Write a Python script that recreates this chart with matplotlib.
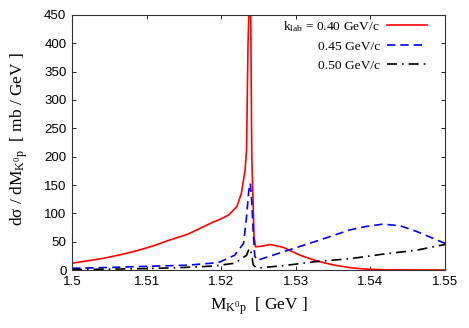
import matplotlib
matplotlib.use("Agg")
import matplotlib.pyplot as plt

# Data
red_x = [1.5, 1.502, 1.5042, 1.5065, 1.5087, 1.511, 1.5131, 1.5155, 1.5174, 1.519, 1.5196,
         1.521, 1.5221, 1.5227, 1.5232, 1.5234, 1.5236, 1.52375, 1.52395, 1.5241, 1.5244,
         1.5246, 1.5254, 1.5266, 1.5283, 1.5306, 1.5328, 1.535, 1.5373, 1.5395, 1.542, 1.55]
red_y = [12, 16, 20.6, 27, 34, 43, 53, 63, 75, 85, 88,
         97, 112, 135, 176, 212, 400, 470, 470, 200, 60,
         41, 42, 45, 40, 26, 16, 9, 4, 1.5, 0.3, 0]

blue_x = [1.5, 1.505, 1.51, 1.5155, 1.5196, 1.5218, 1.523, 1.5234, 1.5237, 1.5239,
          1.5241, 1.5243, 1.5245, 1.5248, 1.529, 1.533, 1.5373, 1.5395, 1.5417, 1.544,
          1.5462, 1.55]
blue_y = [3, 4.5, 6.5, 8.5, 13, 26, 47, 94, 140, 153,
          120, 65, 25, 17, 35, 52, 71, 77, 81, 78,
          68, 47]

black_x = [1.5, 1.505, 1.51, 1.5151, 1.519, 1.5218, 1.5234, 1.5237, 1.5239, 1.5241,
           1.5243, 1.5247, 1.5252, 1.5283, 1.5328, 1.5373, 1.5417, 1.5462, 1.55]
black_y = [1, 1.5, 2.5, 4.5, 7, 12, 26, 36, 38, 25,
           9, 4, 4, 7.6, 15, 20, 28, 35, 45]

labels = [r"k$_{\mathrm{lab}}$ = 0.40 GeV/c", "0.45 GeV/c", "0.50 GeV/c"]
xticks = [1.5, 1.51, 1.52, 1.53, 1.54, 1.55]
yticks = [0, 50, 100, 150, 200, 250, 300, 350, 400, 450]

plt.rcParams['mathtext.fontset'] = 'custom'
plt.rcParams['mathtext.rm'] = 'Liberation Serif'
plt.rcParams['mathtext.it'] = 'Liberation Serif:italic'
plt.rcParams['mathtext.bf'] = 'Liberation Serif:bold'

fig = plt.figure(figsize=(4.69, 3.28), dpi=100)
ax = fig.add_axes([0.1535, 0.1768, 0.7953, 0.7775])

ax.plot(red_x, red_y, color='#ff0000', lw=1.2, label=labels[0])
ax.plot(blue_x, blue_y, color='#0000ff', lw=1.2, dashes=(5, 3), label=labels[1])
ax.plot(black_x, black_y, color='black', lw=1.2, dashes=(6, 3, 1, 3), label=labels[2])

ax.set_xlim(1.5, 1.55)
ax.set_ylim(0, 450)
ax.set_xticks(xticks)
ax.set_xticklabels([f"{t:g}" for t in xticks], fontfamily='Liberation Sans', fontsize=9.6)
ax.set_yticks(yticks)
ax.set_yticklabels([str(t) for t in yticks], fontfamily='Liberation Sans', fontsize=9.6)
ax.tick_params(direction='in', top=True, right=True, length=3, width=0.6, pad=4)
for s in ax.spines.values():
    s.set_linewidth(0.8)
    s.set_color('#333333')

ax.set_xlabel(r"M$_{\mathrm{K^0p}}$  [ GeV ]", fontfamily='Liberation Serif', fontsize=12.5)
ax.set_ylabel(r"d$\mathrm{\sigma}$ / dM$_{\mathrm{K^0p}}$  [ mb / GeV ]", fontfamily='Liberation Serif', fontsize=12.5)
ax.xaxis.set_label_coords(0.5, -0.1)
ax.yaxis.set_label_coords(-0.113, 0.515)

leg = ax.legend(loc='upper right', bbox_to_anchor=(0.9517, 0.984), frameon=False, markerfirst=False,
                prop={'family': 'Liberation Serif', 'size': 9.7},
                handlelength=3.0, handletextpad=0.5, labelspacing=0.5,
                borderaxespad=0, borderpad=0)
for t in leg.get_texts():
    t.set_ha('right')
leg._legend_box.align = 'right'

fig.savefig('out.png', dpi=100)
